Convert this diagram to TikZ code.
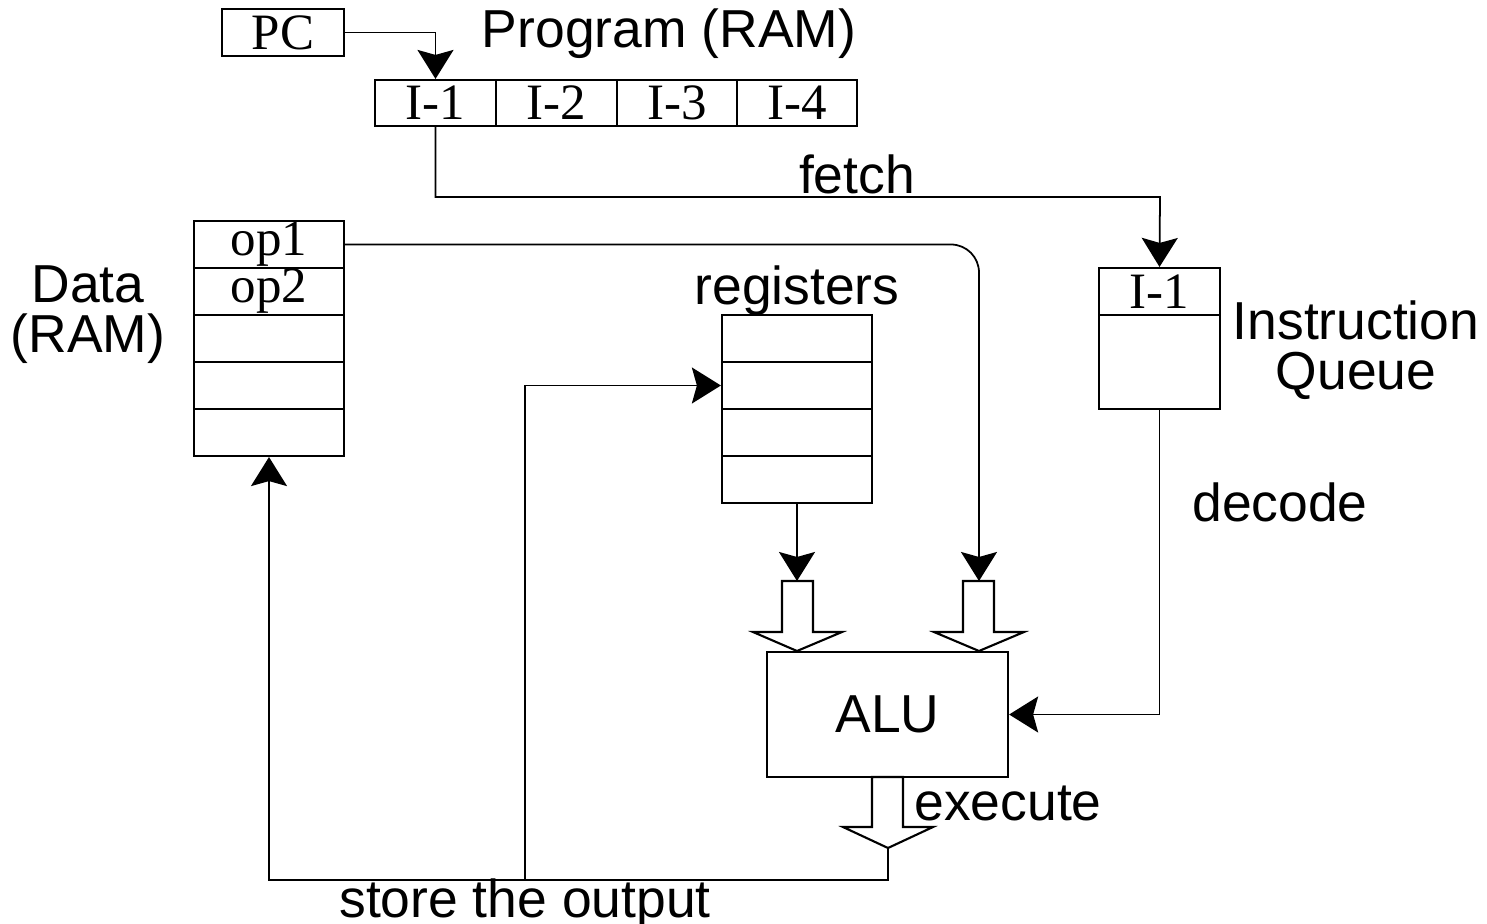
\documentclass[tikz,border=0pt]{standalone}
\usepackage{fontspec}
\setmainfont{Liberation Serif}
\setsansfont{Liberation Sans}
\usetikzlibrary{arrows.meta}
\begin{document}
\begin{tikzpicture}[x=0.01cm,y=-0.01cm,
  cell/.style={draw,line width=0.6pt,inner sep=0pt,font=\fontsize{14.5}{16}\selectfont},
  lbl/.style={inner sep=0pt,font=\sffamily\fontsize{15.2}{14.2}\selectfont},
  conn/.style={line width=0.5pt,-{Stealth[length=0.29cm,width=0.36cm,inset=0.05cm]}},
  hollow/.style={draw,line width=0.6pt,fill=white,line join=miter}]
\useasboundingbox (0,0) rectangle (1487,924);
% PC and program memory
\node[cell,minimum width=1.22cm,minimum height=0.47cm] (pc) at (283,32.5) {PC};
\node[cell,minimum width=1.21cm,minimum height=0.46cm] (p1) at (435.5,103) {I-1};
\node[cell,minimum width=1.21cm,minimum height=0.46cm] (p2) at (556.5,103) {I-2};
\node[cell,minimum width=1.20cm,minimum height=0.46cm] (p3) at (677,103) {I-3};
\node[cell,minimum width=1.20cm,minimum height=0.46cm] (p4) at (797,103) {I-4};
\node[lbl] (prog) at (669,34) {Program (RAM)};
% data memory
\foreach \i/\y/\t in {1/244.5/op1,2/291.5/op2,3/338.5/,4/385.5/,5/432.5/}
  \node[cell,minimum width=1.50cm,minimum height=0.47cm] (d\i) at (269,\y) {\raisebox{-1pt}{\t}};
\node[lbl,align=center] (data) at (88,315) {Data\\(RAM)};
% registers
\foreach \i/\y in {1/338.5,2/385.5,3/432.5,4/479.5}
  \node[cell,minimum width=1.50cm,minimum height=0.47cm] (r\i) at (797,\y) {};
\node[lbl] (reglbl) at (797,291) {registers};
% instruction queue
\node[cell,minimum width=1.21cm,minimum height=0.47cm] (q1) at (1159.5,291.5) {I-1};
\node[cell,minimum width=1.21cm,minimum height=0.94cm] (q2) at (1159.5,362) {};
\node[lbl,align=center] (qlbl) at (1356,350) {Instruction\\Queue};
% ALU
\node[draw,line width=0.6pt,minimum width=2.41cm,minimum height=1.25cm,inner sep=0pt,font=\sffamily\fontsize{15.2}{17}\selectfont] (alu) at (887.5,714.5) {ALU};
% labels
\node[lbl] (fetch) at (857,174) {fetch};
\node[lbl] (decode) at (1280,502) {decode};
\node[lbl] (exec) at (1008,803) {execute};
\node[lbl] (store) at (525,904) {store the output};
% hollow arrows
\coordinate (h1) at (797,581);
\coordinate (h2) at (979,581);
\coordinate (h3) at (888,848);
\draw[hollow] (782,581) -- (813,581) -- (813,632) -- (842,632) -- (797,651) -- (753,632) -- (782,632) -- cycle;
\draw[hollow] (963,581) -- (994,581) -- (994,632) -- (1024,632) -- (979,651) -- (934,632) -- (963,632) -- cycle;
\draw[hollow] (872,777) -- (903,777) -- (903,827) -- (933,827) -- (888,848) -- (843,827) -- (872,827) -- cycle;
% connectors
\draw[conn] (pc.east) -| (p1.north);
\draw[conn] (p1.south) |- (1160,197) -- (q1.north);
\draw[conn] (q2.south) |- (alu.east);
\draw[conn,rounded corners=0.28cm] (d1.east) -| (h2);
\draw[conn] (r4.south) -- (h1);
\coordinate (sb) at (525,880);
\draw[conn] (h3) |- (sb) -| (d5.south);
\draw[conn] (sb) |- (r2.west);
\end{tikzpicture}
\end{document}
